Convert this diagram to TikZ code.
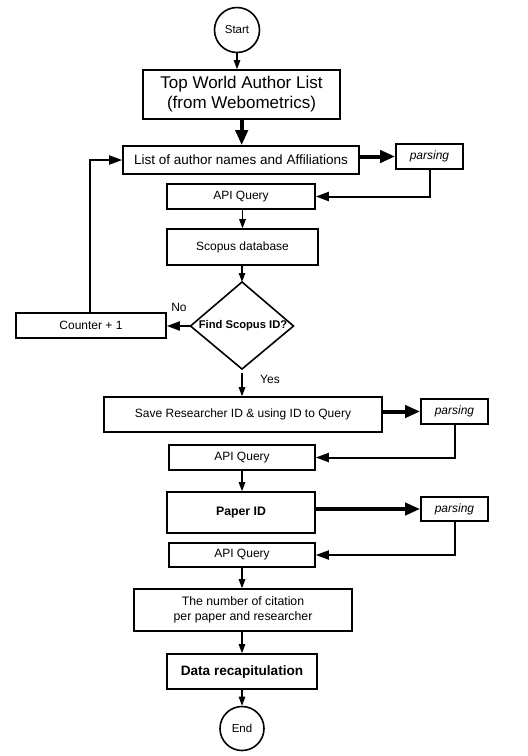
\documentclass[tikz,border=0pt]{standalone}
\usepackage{fontspec}
\setmainfont{Liberation Sans}
\usetikzlibrary{arrows.meta}
\begin{document}
\begin{tikzpicture}[x=1pt,y=-1pt,
  box/.style={draw, line width=1.6pt, inner sep=0pt, align=center, font=\fontsize{12}{14}\selectfont},
  term/.style={draw, circle, line width=1.6pt, inner sep=0pt, font=\fontsize{11.5}{13}\selectfont},
  thinarr/.style={line width=1.2pt, -{Triangle[length=9pt,width=6.5pt]}},
  midarr/.style={line width=2pt, -{Triangle[length=13pt,width=9pt]}},
  thickarr/.style={line width=4pt, -{Triangle[length=15pt,width=12pt]}},
  lbl/.style={inner sep=0pt, font=\fontsize{12}{14}\selectfont}]
\useasboundingbox (0,0) rectangle (528,756);

\node[term, minimum size=45pt] (start) at (237,30) {Start};
\node[box, minimum width=197pt, minimum height=49pt, font=\fontsize{17}{20}\selectfont] (top) at (241.5,94.5) {Top World Author List\\(from Webometrics)};
\node[box, minimum width=236pt, minimum height=28pt, font=\fontsize{13.5}{15}\selectfont] (list) at (241,160) {List of author names and Affiliations};
\node[box, minimum width=67pt, minimum height=25pt, font=\fontsize{12}{14}\selectfont\itshape] (p1) at (429.5,156.5) {parsing};
\node[box, minimum width=148pt, minimum height=25pt] (api1) at (241,196.5) {API Query};
\node[box, minimum width=151pt, minimum height=36pt] (scopus) at (242.5,247) {Scopus database};

\coordinate (dT) at (242,282);
\coordinate (dR) at (293.5,326);
\coordinate (dB) at (242,369);
\coordinate (dL) at (190.5,326);
\draw[line width=1.6pt, line join=miter] (dT) -- (dR) -- (dB) -- (dL) -- cycle;
\node[lbl, font=\fontsize{11.2}{14}\selectfont\bfseries] (find) at (243,326) {Find Scopus ID?};

\node[box, minimum width=150pt, minimum height=25pt] (counter) at (91,325.5) {Counter + 1};
\node[box, minimum width=278pt, minimum height=35pt] (save) at (243,414.5) {Save Researcher ID \& using ID to Query};
\node[box, minimum width=67pt, minimum height=25pt, font=\fontsize{12}{14}\selectfont\itshape] (p2) at (454.5,411.5) {parsing};
\node[box, minimum width=146pt, minimum height=25pt] (api2) at (242,457.5) {API Query};
\node[box, minimum width=148pt, minimum height=41pt, font=\fontsize{12.3}{14}\selectfont\bfseries] (paper) at (241,512.5) {Paper ID};
\node[box, minimum width=67pt, minimum height=24pt, font=\fontsize{12}{14}\selectfont\itshape] (p3) at (454.5,509) {parsing};
\node[box, minimum width=146pt, minimum height=24pt] (api3) at (242,555) {API Query};
\node[box, minimum width=218pt, minimum height=42pt, font=\fontsize{12.3}{14.5}\selectfont] (num) at (243,610) {The number of citation\\per paper and researcher};
\node[box, minimum width=150pt, minimum height=35pt, font=\fontsize{13.6}{16}\selectfont\bfseries] (data) at (242,671.5) {Data recapitulation};
\node[term, minimum size=44pt] (end) at (242,728.5) {End};

\node[lbl] (no) at (179,307) {No};
\node[lbl] (yes) at (270,379) {Yes};

\draw[thinarr] (start.south) -- (start.south |- top.north);
\draw[thickarr] (241.7,0 |- top.south) -- (241.7,0 |- list.north);
\draw[thickarr] (list.east |- p1.west) -- (p1.west);
\draw[midarr] (p1.south) |- (api1.east);
\draw[thinarr] (api1.south -| scopus.north) -- (scopus.north);
\draw[thinarr] (scopus.south -| dT) -- (dT);
\draw[midarr] (dL) -- (counter.east |- dL);
\draw[midarr] (counter.north -| 90,0) |- (list.west);
\draw[thinarr, shorten <=4pt] (dB) -- (dB |- save.north);
\draw[thickarr] (save.east |- p2.west) -- (p2.west);
\draw[midarr] (p2.south) |- (api2.east);
\draw[thinarr] (api2.south) -- (api2.south |- paper.north);
\draw[thickarr] (paper.east |- p3.west) -- (p3.west);
\draw[midarr] (p3.south) |- (api3.east);
\draw[thinarr] (api3.south) -- (api3.south |- num.north);
\draw[thinarr] (data.north |- num.south) -- (data.north);
\draw[thinarr] (data.south) -- (data.south |- end.north);
\end{tikzpicture}
\end{document}
